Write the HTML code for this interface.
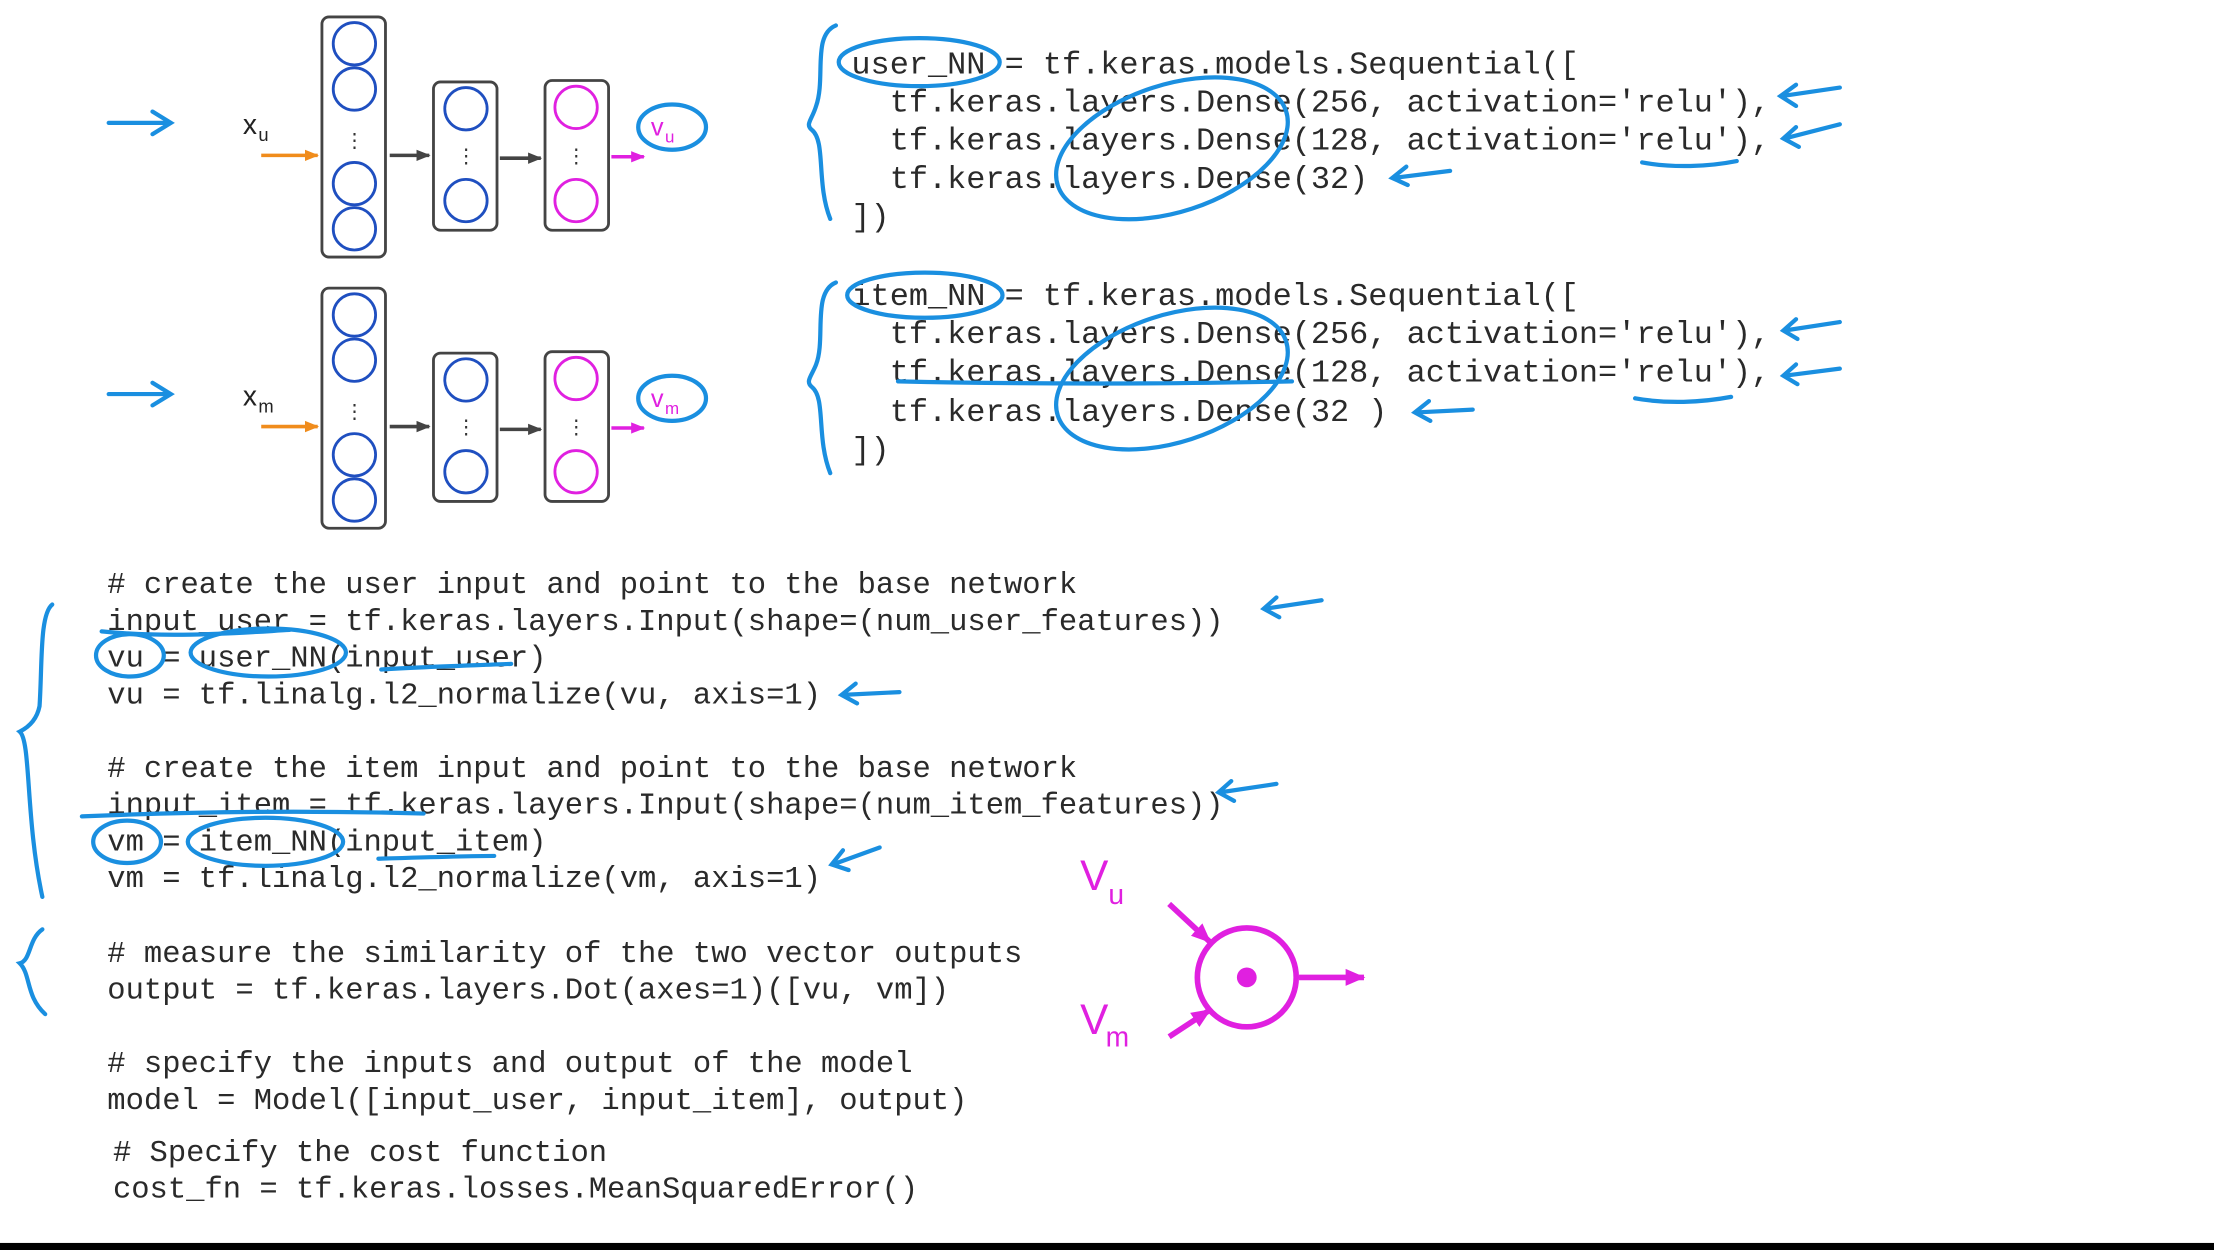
<!DOCTYPE html>
<html><head><meta charset="utf-8"><style>
html,body{margin:0;padding:0;background:#fff;}
svg{display:block}
text{white-space:pre}
.c{font-family:"Liberation Mono",monospace;font-size:21.6px;fill:#2a2a2a;}
.t{font-family:"Liberation Mono",monospace;font-size:22.6px;fill:#2a2a2a;}
.b{fill:none;stroke:#1a8fe0;stroke-width:3;stroke-linecap:round}
</style></head><body>
<svg width="2214" height="1250" viewBox="0 0 1568 885" preserveAspectRatio="none" xml:space="preserve">
<defs>
<marker id="ag" markerUnits="userSpaceOnUse" markerWidth="10" markerHeight="10" refX="9" refY="5" orient="auto"><path d="M0,1L10,5L0,9z" fill="#444"/></marker>
<marker id="ao" markerUnits="userSpaceOnUse" markerWidth="10" markerHeight="10" refX="9" refY="5" orient="auto"><path d="M0,1L10,5L0,9z" fill="#f08c1c"/></marker>
<marker id="am" markerUnits="userSpaceOnUse" markerWidth="10" markerHeight="10" refX="9" refY="5" orient="auto"><path d="M0,1L10,5L0,9z" fill="#e020e0"/></marker>
<marker id="am2" markerUnits="userSpaceOnUse" markerWidth="14" markerHeight="14" refX="13" refY="7" orient="auto"><path d="M0,1L14,7L0,13z" fill="#e020e0"/></marker>
</defs>
<rect width="1568" height="885" fill="#fff"/>
<rect x="0" y="880" width="1568" height="5" fill="#000"/>

<g id="net">
<path class="b" d="M77,87 L120,87 M108,79 L121,87 L108,95"/>
<text x="172" y="95" font-family="Liberation Sans,sans-serif" font-size="20" fill="#222">x</text>
<rect x="228" y="12" width="45" height="170" rx="5" fill="none" stroke="#444" stroke-width="2"/>
<g fill="none" stroke="#1f4fc0" stroke-width="2"><circle cx="251" cy="31" r="15"/><circle cx="251" cy="63" r="15"/><circle cx="251" cy="130" r="15"/><circle cx="251" cy="162" r="15"/>
<circle cx="330" cy="77" r="15"/><circle cx="330" cy="142" r="15"/></g>
<text x="251" y="104" text-anchor="middle" font-size="14" fill="#333">⋮</text>
<rect x="307" y="58" width="45" height="105" rx="5" fill="none" stroke="#444" stroke-width="2"/>
<text x="330" y="115" text-anchor="middle" font-size="14" fill="#333">⋮</text>
<rect x="386" y="57" width="45" height="106" rx="5" fill="none" stroke="#444" stroke-width="2"/>
<g fill="none" stroke="#e020e0" stroke-width="2"><circle cx="408" cy="76" r="15"/><circle cx="408" cy="142" r="15"/></g>
<text x="408" y="115" text-anchor="middle" font-size="14" fill="#333">⋮</text>
<line x1="185" y1="110" x2="225" y2="110" stroke="#f08c1c" stroke-width="2.5" marker-end="url(#ao)"/>
<line x1="276" y1="110" x2="304" y2="110" stroke="#444" stroke-width="2.5" marker-end="url(#ag)"/>
<line x1="354" y1="112" x2="383" y2="112" stroke="#444" stroke-width="2.5" marker-end="url(#ag)"/>
<line x1="433" y1="111" x2="456" y2="111" stroke="#e020e0" stroke-width="2.5" marker-end="url(#am)"/>
<ellipse class="b" cx="476" cy="90" rx="24" ry="16"/>
<text x="461" y="96" font-family="Liberation Sans,sans-serif" font-size="18" fill="#e020e0">v</text>
</g>
<text x="183" y="100" font-family="Liberation Sans,sans-serif" font-size="13" fill="#222">u</text>
<text x="471" y="101" font-family="Liberation Sans,sans-serif" font-size="12" fill="#e020e0">u</text>
<use href="#net" transform="translate(0,192)"/>
<text x="183" y="292" font-family="Liberation Sans,sans-serif" font-size="13" fill="#222">m</text>
<text x="471" y="293" font-family="Liberation Sans,sans-serif" font-size="12" fill="#e020e0">m</text>

<!-- top code -->
<text class="t" x="603" y="52">user_NN = tf.keras.models.Sequential([</text>
<text class="t" x="603" y="79">  tf.keras.layers.Dense(256, activation='relu'),</text>
<text class="t" x="603" y="106">  tf.keras.layers.Dense(128, activation='relu'),</text>
<text class="t" x="603" y="133">  tf.keras.layers.Dense(32)</text>
<text class="t" x="603" y="160">])</text>
<text class="t" x="603" y="216">item_NN = tf.keras.models.Sequential([</text>
<text class="t" x="603" y="243">  tf.keras.layers.Dense(256, activation='relu'),</text>
<text class="t" x="603" y="270">  tf.keras.layers.Dense(128, activation='relu'),</text>
<text class="t" x="603" y="298">  tf.keras.layers.Dense(32 )</text>
<text class="t" x="603" y="325">])</text>

<g class="b">
<path d="M592,18 C575,25 585,55 578,75 C575,85 570,88 575,92 C585,100 578,130 588,155"/>
<ellipse cx="651" cy="44" rx="57" ry="17"/>
<ellipse cx="830" cy="105" rx="85" ry="45" transform="rotate(-18 830 105)"/>
<path d="M1303,62 L1262,68 M1272,60 L1261,68 L1272,75"/>
<path d="M1303,88 L1264,98 M1272,90 L1263,98 L1274,104"/>
<path d="M1027,121 L987,126 M996,118 L986,126 L997,131"/>
<path d="M1163,115 C1185,119 1210,118 1230,114"/>
<path d="M592,200 C575,207 585,240 578,258 C575,266 570,270 575,274 C585,282 578,310 588,335"/>
<ellipse cx="655" cy="209" rx="55" ry="16"/>
<ellipse cx="830" cy="268" rx="85" ry="45" transform="rotate(-18 830 268)"/>
<path d="M636,270 C720,272 830,272 915,270"/>
<path d="M1303,228 L1264,234 M1272,226 L1263,234 L1273,240"/>
<path d="M1303,261 L1264,266 M1272,258 L1263,266 L1273,272"/>
<path d="M1043,290 L1003,292 M1012,284 L1002,292 L1013,298"/>
<path d="M1158,282 C1180,286 1205,285 1226,281"/>
</g>

<!-- bottom code -->
<text class="c" x="76" y="420"># create the user input and point to the base network</text>
<text class="c" x="76" y="446">input_user = tf.keras.layers.Input(shape=(num_user_features))</text>
<text class="c" x="76" y="472">vu = user_NN(input_user)</text>
<text class="c" x="76" y="498">vu = tf.linalg.l2_normalize(vu, axis=1)</text>
<text class="c" x="76" y="550"># create the item input and point to the base network</text>
<text class="c" x="76" y="576">input_item = tf.keras.layers.Input(shape=(num_item_features))</text>
<text class="c" x="76" y="602">vm = item_NN(input_item)</text>
<text class="c" x="76" y="628">vm = tf.linalg.l2_normalize(vm, axis=1)</text>
<text class="c" x="76" y="681"># measure the similarity of the two vector outputs</text>
<text class="c" x="76" y="707">output = tf.keras.layers.Dot(axes=1)([vu, vm])</text>
<text class="c" x="76" y="759"># specify the inputs and output of the model</text>
<text class="c" x="76" y="785">model = Model([input_user, input_item], output)</text>
<text class="c" x="80" y="822"># Specify the cost function</text>
<text class="c" x="80" y="848">cost_fn = tf.keras.losses.MeanSquaredError()</text>

<g class="b">
<path d="M37,428 C28,435 30,470 28,500 C26,510 20,515 14,518 C22,525 18,580 30,635"/>
<path d="M30,658 C20,665 22,680 14,682 C22,690 18,705 32,718"/>
<path d="M72,447 C120,452 170,448 205,446"/>
<ellipse cx="92" cy="464" rx="24" ry="15"/>
<ellipse cx="190" cy="462" rx="55" ry="17"/>
<path d="M270,474 C300,472 340,471 362,470"/>
<path d="M936,425 L896,431 M904,423 L895,431 L906,437"/>
<path d="M637,490 L597,492 M606,484 L596,492 L607,498"/>
<path d="M58,578 C150,574 230,574 300,576"/>
<ellipse cx="90" cy="596" rx="24" ry="15"/>
<ellipse cx="188" cy="596" rx="55" ry="17"/>
<path d="M268,608 C300,607 335,606 350,606"/>
<path d="M904,555 L864,561 M872,553 L863,561 L874,567"/>
<path d="M623,600 L590,612 M597,602 L589,612 L601,616"/>
</g>

<!-- dot product -->
<text x="765" y="630" font-family="Liberation Sans,sans-serif" font-size="30" fill="#e020e0">V</text>
<text x="785" y="640" font-family="Liberation Sans,sans-serif" font-size="20" fill="#e020e0">u</text>
<text x="765" y="732" font-family="Liberation Sans,sans-serif" font-size="30" fill="#e020e0">V</text>
<text x="783" y="741" font-family="Liberation Sans,sans-serif" font-size="20" fill="#e020e0">m</text>
<circle cx="883" cy="692" r="35" fill="none" stroke="#e020e0" stroke-width="4"/>
<circle cx="883" cy="692" r="7" fill="#e020e0"/>
<line x1="920" y1="692" x2="966" y2="692" stroke="#e020e0" stroke-width="4" marker-end="url(#am2)"/>
<line x1="828" y1="640" x2="857" y2="667" stroke="#e020e0" stroke-width="4" marker-end="url(#am2)"/>
<line x1="828" y1="734" x2="857" y2="715" stroke="#e020e0" stroke-width="4" marker-end="url(#am2)"/>
</svg>
</body></html>
